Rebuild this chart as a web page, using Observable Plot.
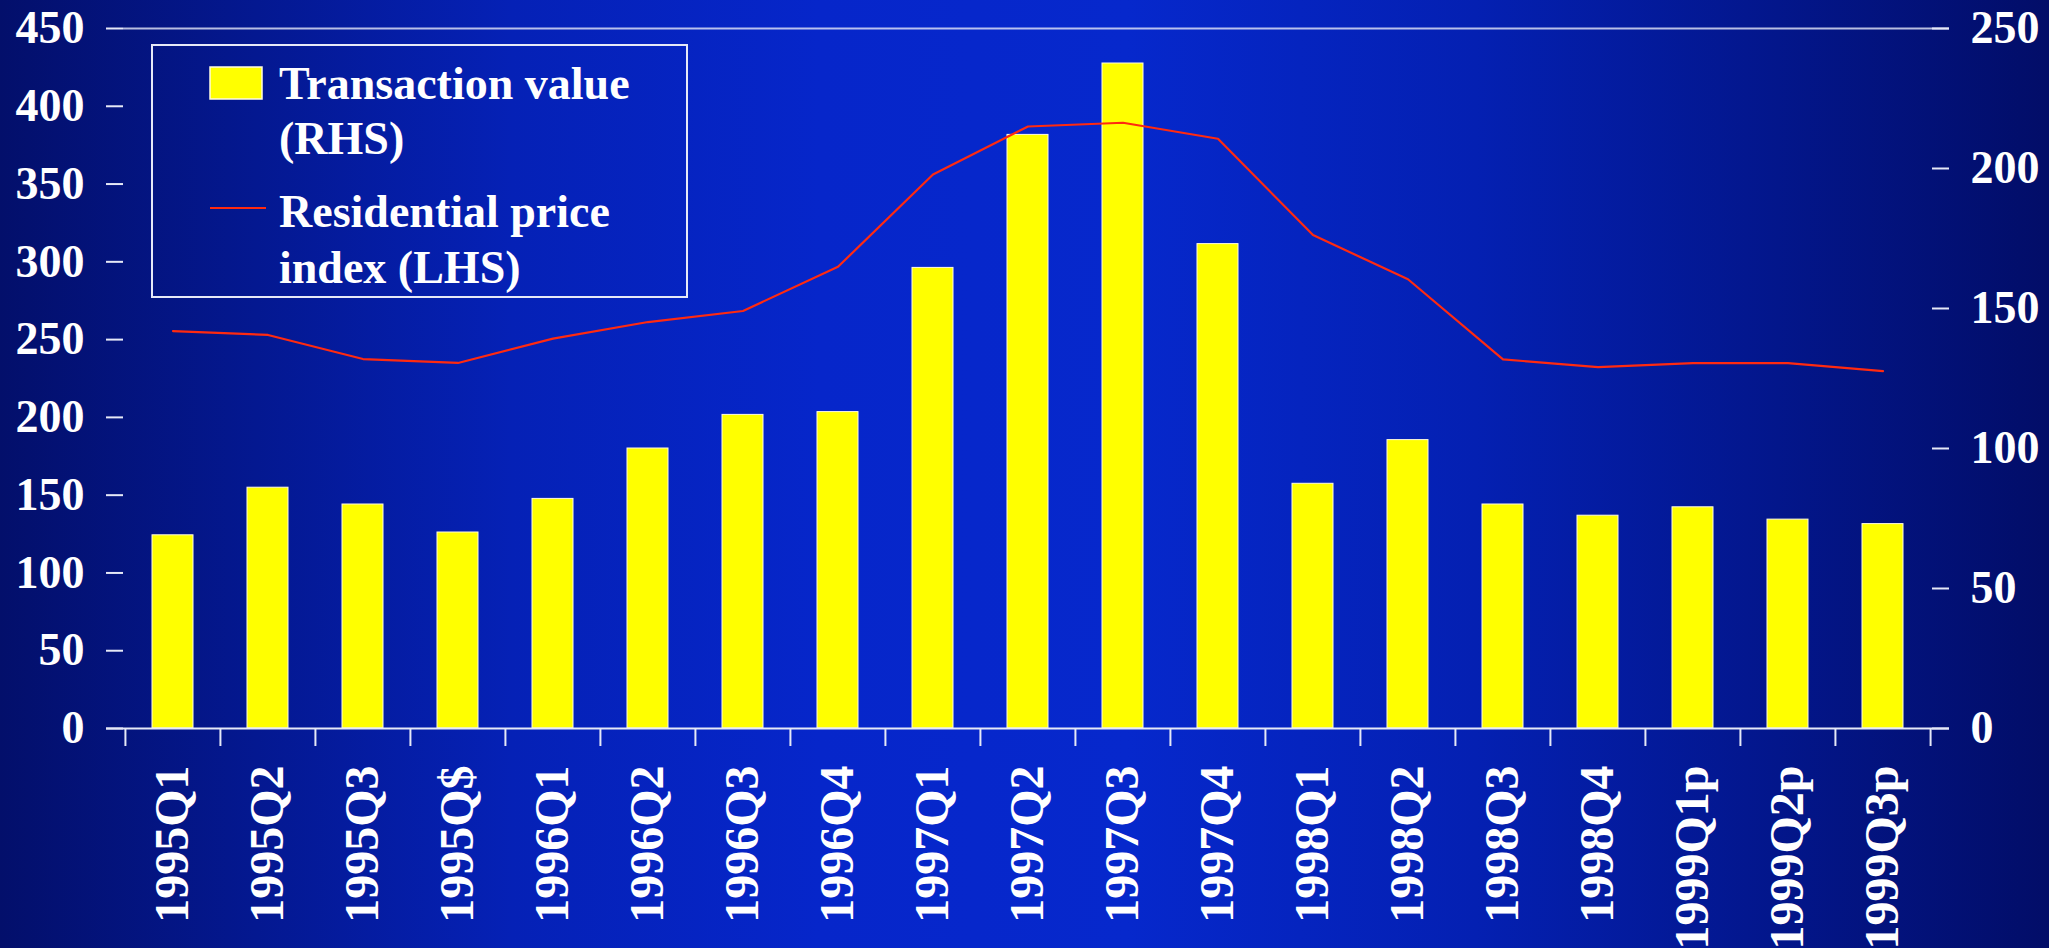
<!DOCTYPE html>
<html>
<head>
<meta charset="utf-8">
<script src="https://cdn.jsdelivr.net/npm/d3@7"></script>
<script src="https://cdn.jsdelivr.net/npm/@observablehq/plot@0.6"></script>
<style>
  html, body { margin: 0; padding: 0; }
  body {
    width: 2049px; height: 948px; overflow: hidden;
    background: linear-gradient(to right, #030f6b 0%, #0521b6 25%, #0626ca 40%, #0628cc 55%, #0420b2 72%, #020d68 100%);
    font-family: "Liberation Serif", "Times New Roman", serif;
  }
  #chart { position: absolute; left: 0; top: 0; }
</style>
</head>
<body>
<div id="chart"></div>
<script>
// ---- data ----
const categories = ["1995Q1","1995Q2","1995Q3","1995Q$","1996Q1","1996Q2","1996Q3","1996Q4",
  "1997Q1","1997Q2","1997Q3","1997Q4","1998Q1","1998Q2","1998Q3","1998Q4","1999Q1p","1999Q2p","1999Q3p"];
// Transaction value (RHS, 0-250)
const transactionValue = [69, 86, 80, 70, 82, 100, 112, 113, 164.5, 212, 237.5, 173, 87.4, 103, 80, 76, 79, 74.6, 73];
// Residential price index (LHS, 0-450)
const priceIndex = [255.5, 253, 237.5, 235, 250.6, 261.3, 268.4, 296.8, 356.1, 387, 389.4, 379.1, 317.2, 288.8, 237.3, 232.3, 234.9, 234.9, 229.7];
const leftTicks = [0, 50, 100, 150, 200, 250, 300, 350, 400, 450];
const rightTicks = [0, 50, 100, 150, 200, 250];
const seriesNames = ["Transaction value", "(RHS)", "Residential price", "index (LHS)"];

// ---- layout ----
const W = 2049, H = 948;
const mL = 123, mR = 118, mT = 28, mB = 220;
const leftMax = 450, rightMax = 250;
const k = leftMax / rightMax;           // map RHS values onto LHS scale
const step = (W - mL - mR) / categories.length;
const pxPerUnit = (H - mT - mB) / leftMax;
const tickLen = 18 / pxPerUnit;

const data = categories.map((c, i) => ({cat: c, tv: transactionValue[i], pi: priceIndex[i]}));
const font = "'Liberation Serif', 'Times New Roman', serif";
const axisColor = "#e6e9f7";

const chart = Plot.plot({
  width: W, height: H,
  marginLeft: mL, marginRight: mR, marginTop: mT, marginBottom: mB,
  style: {background: "transparent", color: "white", fontFamily: font, fontWeight: "bold", overflow: "visible"},
  x: {domain: categories, paddingInner: 0.57, paddingOuter: 0.285, align: 0.5, label: null},
  y: {domain: [0, leftMax], label: null},
  marks: [
    // bars (RHS)
    Plot.barY(data, {x: "cat", y: d => d.tv * k, fill: "#ffff00", stroke: "#fffbe0", strokeWidth: 1}),
    // price index line (LHS)
    Plot.lineY(data, {x: "cat", y: "pi", stroke: "#ff2a10", strokeWidth: 2.2}),
    // top border
    Plot.ruleY([leftMax], {stroke: axisColor, strokeWidth: 2, strokeOpacity: 0.8, insetRight: -18}),
    // baseline
    Plot.ruleY([0], {stroke: axisColor, strokeWidth: 2, insetLeft: -17, insetRight: -18}),
    // category boundary ticks
    Plot.ruleX(categories, {x: d => d, dx: -step / 2, y1: 0, y2: -tickLen, stroke: axisColor, strokeWidth: 2}),
    Plot.ruleX(categories.slice(-1), {x: d => d, dx: step / 2, y1: 0, y2: -tickLen, stroke: axisColor, strokeWidth: 2}),
    // left axis
    Plot.axisY({anchor: "left", ticks: leftTicks, tickSize: 17, tickPadding: 22, fontSize: 46,
      fontWeight: "bold", stroke: axisColor, strokeWidth: 2, line: true, label: null}),
    // right axis
    Plot.axisY({anchor: "right", ticks: rightTicks.map(v => v * k), tickFormat: v => Math.round(v / k),
      tickSize: 17, tickPadding: 22, fontSize: 46, fontWeight: "bold", stroke: axisColor, strokeWidth: 2, line: true, label: null}),
    // x axis labels
    Plot.axisX({anchor: "bottom", tickRotate: -90, tickSize: 0, tickPadding: 37, fontSize: 48,
      fontWeight: "bold", label: null})
  ]
});
document.getElementById("chart").appendChild(chart);

// ---- legend (inside the plot area, top-left) ----
const svg = d3.select(chart);
const lg = svg.append("g").attr("font-family", font).attr("font-weight", "bold")
  .attr("fill", "white").attr("text-anchor", "start");
lg.append("rect").attr("x", 152).attr("y", 45).attr("width", 535).attr("height", 252)
  .attr("fill", "none").attr("stroke", "#e6e9f7").attr("stroke-width", 2);
lg.append("rect").attr("x", 210).attr("y", 67).attr("width", 52).attr("height", 32)
  .attr("fill", "#ffff00").attr("stroke", "#fffbe0").attr("stroke-width", 1.5);
lg.append("line").attr("x1", 210).attr("x2", 266).attr("y1", 208).attr("y2", 208)
  .attr("stroke", "#ff2a10").attr("stroke-width", 2.2);
const baselines = [99, 154, 227, 283];
seriesNames.forEach((t, i) => {
  lg.append("text").attr("x", 279).attr("y", baselines[i]).attr("font-size", 46)
    .attr("text-anchor", "start").text(t);
});
</script>
</body>
</html>
